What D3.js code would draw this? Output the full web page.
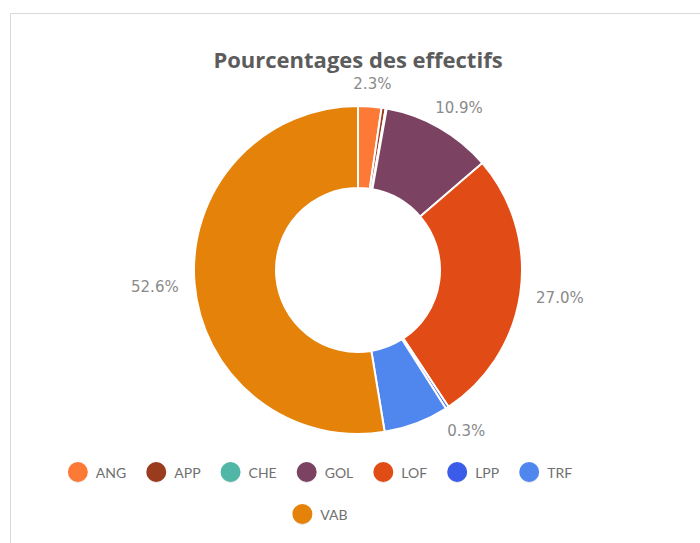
<!DOCTYPE html>
<html>
  <head>
    <meta charset='utf-8'>
    <style>
      body { margin: 0; background: #fff; }
    </style>
  </head>
  <body>
    <div id="chart"></div>
    <script src="https://cdn.jsdelivr.net/npm/d3@7"></script>
    <script type="text/javascript">

      // --------------------------- data --------------------------
      var categories = ["ANG", "APP", "CHE", "GOL", "LOF", "LPP", "TRF", "VAB"];
      var values = [2.3, 0.4, 0.1, 10.9, 27.0, 0.3, 6.4, 52.6];
      var colors = ["#fd7a36", "#9a3b1e", "#52b6a6", "#7b4262", "#e14b15", "#3b5ce9", "#5087ef", "#e4820a"];
      // only these slices carry an outside label in the original
      var labelled = ["ANG", "GOL", "LOF", "LPP", "VAB"];

      var width = 700, height = 543,
          cx = 358, cy = 270,
          outerR = 164, innerR = 82, labelR = 180;

      var svg = d3.select("#chart").append("svg")
        .attr("width", width)
        .attr("height", height);

      // frame (only top and left edges show)
      svg.append("path")
        .attr("d", "M10.5,543 L10.5,13.5 L700,13.5")
        .attr("fill", "none")
        .attr("stroke", "#d9d9d9")
        .attr("stroke-width", 1);

      svg.append("text")
        .attr("x", cx)
        .attr("y", 68)
        .attr("text-anchor", "middle")
        .style("font-family", "'Open Sans', sans-serif")
        .style("font-weight", 700)
        .style("font-size", "22px")
        .style("fill", "#5c5c5c")
        .text("Pourcentages des effectifs");

      var data = categories.map(function(c, i){ return {cat: c, value: values[i], color: colors[i]}; });

      var pie = d3.pie().sort(null).value(function(d){ return d.value; });
      var arc = d3.arc().innerRadius(innerR).outerRadius(outerR);
      var arcs = pie(data);

      var g = svg.append("g").attr("transform", "translate(" + cx + "," + cy + ")");

      g.selectAll(".slice")
        .data(arcs).enter()
        .append("path")
        .attr("class", "slice")
        .attr("d", arc)
        .attr("fill", function(d){ return d.data.color; })
        .attr("stroke", "#fff")
        .attr("stroke-width", 2);

      var fmt = d3.format(".1f");
      var labels = g.selectAll(".lbl")
        .data(arcs.filter(function(d){ return labelled.indexOf(d.data.cat) >= 0; }))
        .enter()
        .append("text")
        .attr("class", "lbl")
        .attr("text-anchor", "middle")
        .attr("dominant-baseline", "central")
        .style("font-family", "'DejaVu Sans', sans-serif")
        .style("font-size", "15px")
        .style("fill", "#8a8a8a")
        .text(function(d){ return fmt(d.data.value) + "%"; });

      labels.each(function(d){
        var a = (d.startAngle + d.endAngle) / 2;
        var bb = this.getBBox();
        var x = Math.sin(a) * labelR + Math.sin(a) * bb.width / 2;
        var y = -Math.cos(a) * labelR - Math.cos(a) * bb.height / 2 + 2;
        d3.select(this).attr("x", x).attr("y", y);
      });

      // --------------------------- legend --------------------------
      var rows = [categories.slice(0, 7), categories.slice(7)];
      var rowY = [472, 514], legendCx = 320, itemGap = 20, dotR = 10, textGap = 8;

      rows.forEach(function(row, ri){
        var lg = svg.append("g");
        var x = 0;
        row.forEach(function(c){
          var i = categories.indexOf(c);
          var item = lg.append("g").attr("transform", "translate(" + x + ",0)");
          item.append("ellipse")
            .attr("cx", dotR).attr("cy", 2).attr("rx", dotR - 1).attr("ry", dotR - 1)
            .attr("fill", "#ccc").attr("opacity", 0.5);
          item.append("circle")
            .attr("cx", dotR).attr("cy", 0).attr("r", dotR)
            .attr("fill", colors[i]);
          var t = item.append("text")
            .attr("x", dotR * 2 + textGap)
            .attr("y", 0)
            .attr("dominant-baseline", "central")
            .style("font-family", "Lato, sans-serif")
            .style("font-size", "14px")
            .style("fill", "#707070")
            .text(c);
          x += dotR * 2 + textGap + t.node().getComputedTextLength() + itemGap;
        });
        var w = x - itemGap;
        lg.attr("transform", "translate(" + (legendCx - w / 2) + "," + rowY[ri] + ")");
      });

  </script>
  </body>
</html>
